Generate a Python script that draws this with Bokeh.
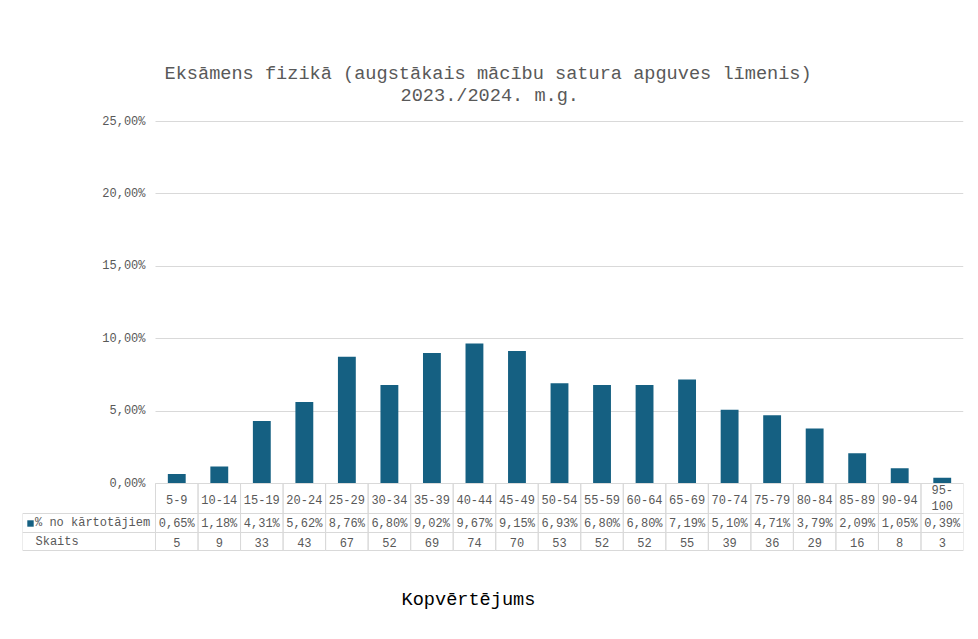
from bokeh.plotting import figure
from bokeh.models import FixedTicker, Title, Label, BoxAnnotation, Range1d, Grid
from bokeh.core.properties import value
from bokeh.embed import file_html
from bokeh.resources import INLINE

# ---------------- data ----------------
categories = ["5-9", "10-14", "15-19", "20-24", "25-29", "30-34", "35-39", "40-44",
              "45-49", "50-54", "55-59", "60-64", "65-69", "70-74", "75-79", "80-84",
              "85-89", "90-94", "95-100"]
pct_values = [0.65, 1.18, 4.31, 5.62, 8.76, 6.80, 9.02, 9.67, 9.15, 6.93,
              6.80, 6.80, 7.19, 5.10, 4.71, 3.79, 2.09, 1.05, 0.39]
counts = [5, 9, 33, 43, 67, 52, 69, 74, 70, 53, 52, 52, 55, 39, 36, 29, 16, 8, 3]
y_ticks = [0, 5, 10, 15, 20, 25]
y_tick_labels = ["0,00%", "5,00%", "10,00%", "15,00%", "20,00%", "25,00%"]
title_lines = ["Eksāmens fizikā (augstākais mācību satura apguves līmenis)",
               "2023./2024. m.g."]
series_name = "% no kārtotājiem"
count_name = "Skaits"
x_title = "Kopvērtējums"

# ---------------- style / geometry (pixels of the picture) ----------------
FONT = "Liberation Mono"
GREY_TXT = "#595959"
LINE = "#d9d9d9"
BAR = "#156082"

N = len(categories)
TABLE_L = 22                      # left edge of the row-header column
PLOT_L, PLOT_R = 155, 963         # value columns
FRAME_T, FRAME_B = 106, 580
ZERO_PX = 483
PX_PER_PCT = (ZERO_PX - 121) / 25.0
PX_PER_COL = (PLOT_R - PLOT_L) / N


def dy(page_y):
    return (ZERO_PX - page_y) / PX_PER_PCT


def dx(page_x):
    return (page_x - PLOT_L) / PX_PER_COL


W = 970
H = 625
p = figure(width=W, height=H, output_backend="svg", toolbar_location=None,
           x_axis_location=None,
           x_range=Range1d(dx(TABLE_L), N), y_range=Range1d(dy(FRAME_B), dy(FRAME_T)),
           min_border_left=TABLE_L, min_border_right=W - PLOT_R,
           min_border_top=FRAME_T, min_border_bottom=H - FRAME_B)
p.outline_line_color = None
p.background_fill_color = "white"
p.border_fill_color = "white"
p.xgrid.grid_line_color = None

# y axis: labels sit right-aligned just left of the value columns
ax = p.yaxis[0]
ax.ticker = FixedTicker(ticks=y_ticks)
ax.major_label_overrides = {t: l for t, l in zip(y_ticks, y_tick_labels)}
ax.axis_line_color = None
ax.major_tick_line_color = None
ax.minor_tick_line_color = None
ax.major_tick_out = 0
ax.major_tick_in = 0
ax.major_label_standoff = -(PLOT_L - 10 - TABLE_L)
ax.major_label_text_font = FONT
ax.major_label_text_font_size = "12px"
ax.major_label_text_color = GREY_TXT

# horizontal grid only over the value columns
if "cross_bounds" in Grid.properties():
    p.ygrid.ticker = FixedTicker(ticks=y_ticks)
    p.ygrid.grid_line_color = LINE
    p.ygrid.grid_line_width = 1
    p.ygrid.cross_bounds = (0, N)
else:
    p.ygrid.grid_line_color = None
    p.segment(x0=[0] * len(y_ticks), x1=[N] * len(y_ticks), y0=y_ticks, y1=y_ticks,
              line_color=LINE, line_width=1)

xs = [i + 0.5 for i in range(N)]

# bars
p.vbar(x=xs, top=pct_values, bottom=0, width=0.42, fill_color=BAR,
       line_color=None, legend_label=series_name)

# data table
lefts = list(range(N))
rights = [i + 1 for i in range(N)]
rows = [(483, 513), (513, 532), (532, 550)]
for top_px, bot_px in rows:
    p.quad(left=lefts, right=rights, top=[dy(top_px)] * N, bottom=[dy(bot_px)] * N,
           fill_color=None, line_color=LINE, line_width=1)

for top_px, bot_px in rows[1:]:
    p.add_layout(BoxAnnotation(left=dx(TABLE_L), right=0, top=dy(top_px), bottom=dy(bot_px),
                               fill_alpha=0, line_color=LINE, line_alpha=1, line_width=1))

cat_labels = [c if len(c) <= 5 else c.replace("-", "-\n") for c in categories]
pct_labels = [("%.2f%%" % v).replace(".", ",") for v in pct_values]
count_labels = [str(c) for c in counts]

txt_kw = dict(text_font=value(FONT), text_font_size="12px", text_color=GREY_TXT,
              text_align="center", text_baseline="middle")
p.text(x=xs, y=[dy(498.5)] * N, text=cat_labels, **txt_kw)
p.text(x=xs, y=[dy(523)] * N, text=pct_labels, **txt_kw)
p.text(x=xs, y=[dy(541.5)] * N, text=count_labels, **txt_kw)

p.add_layout(Label(x=dx(35), y=dy(541.5), text=count_name, text_font=FONT,
                   text_font_size="12px", text_color=GREY_TXT,
                   text_align="left", text_baseline="middle"))

# legend used as the row header of the percentage row
lg = p.legend[0]
lg.location = (26 - TABLE_L, FRAME_B - 532)
lg.glyph_width = 8
lg.glyph_height = 8
lg.label_height = 19
lg.label_standoff = 1
lg.padding = 0
lg.margin = 0
lg.spacing = 0
lg.border_line_color = None
lg.background_fill_alpha = 0
lg.label_text_font = FONT
lg.label_text_font_size = "12px"
lg.label_text_color = GREY_TXT

# titles
t2 = Title(text=title_lines[1], align="left", offset=378, vertical_align="middle",
           standoff=-2, text_font=FONT, text_font_size="18.6px",
           text_font_style="normal", text_color=GREY_TXT)
t1 = Title(text=title_lines[0], align="left", offset=142, vertical_align="middle",
           standoff=-1, text_font=FONT, text_font_size="18.6px",
           text_font_style="normal", text_color=GREY_TXT)
p.add_layout(t2, "above")
p.add_layout(t1, "above")

tx = Title(text=x_title, align="left", offset=379, vertical_align="middle",
           standoff=17, text_font=FONT, text_font_size="18.6px",
           text_font_style="normal", text_color="#000000")
p.add_layout(tx, "below")

open("out.html", "w").write(file_html(p, INLINE))
